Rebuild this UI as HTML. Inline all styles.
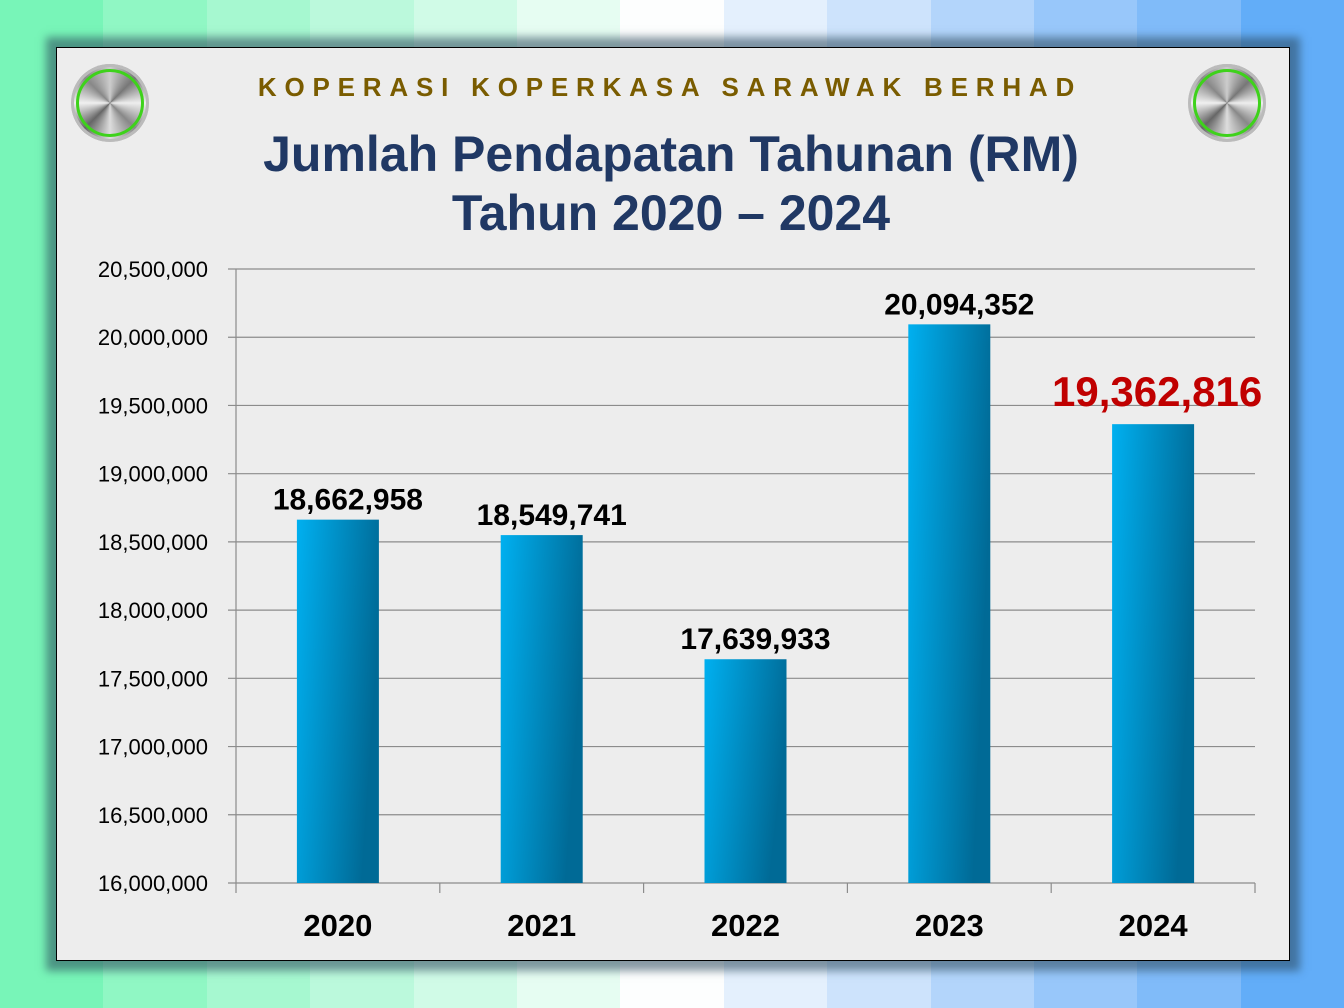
<!DOCTYPE html>
<html><head><meta charset="utf-8"><style>
body{margin:0;width:1344px;height:1008px;overflow:hidden;font-family:"Liberation Sans",sans-serif;position:relative}
.stripes{position:absolute;inset:0;display:flex}
.stripes div{flex:1}
#panel{position:absolute;left:56px;top:47px;width:1232px;height:912px;background:#ededed;border:1.5px solid #000;box-shadow:0 0 8px 10px rgba(40,70,90,0.55)}
.knob{position:absolute;width:78px;height:78px;border-radius:50%;background:conic-gradient(#ccc,#777,#eee,#888,#ddd,#666,#f0f0f0,#888,#ccc);box-shadow:0 0 0 3px #bbb inset}
.knob::after{content:"";position:absolute;left:5px;top:5px;width:62px;height:62px;border-radius:50%;border:3px solid #3ed21b}
</style></head><body>
<div class="stripes">
<div style="background:#78f5b8"></div><div style="background:#90f7c4"></div><div style="background:#a6f8d0"></div><div style="background:#bbf9dc"></div><div style="background:#d0fbe7"></div><div style="background:#e6fdf2"></div><div style="background:#fdfefe"></div><div style="background:#e4f0fd"></div><div style="background:#cde3fc"></div><div style="background:#b3d5fb"></div><div style="background:#98c7fa"></div><div style="background:#80bbf9"></div><div style="background:#62adf8"></div>
</div>
<div id="panel"></div>
<div class="knob" style="left:71px;top:64px"></div>
<div class="knob" style="left:1188px;top:64px"></div>
<svg width="1344" height="1008" style="position:absolute;left:0;top:0" id="chart">
<text x="670" y="96" text-anchor="middle" font-size="26" font-weight="bold" fill="#7a5c00" letter-spacing="7.8">KOPERASI KOPERKASA SARAWAK BERHAD</text>
<text x="671" y="171" text-anchor="middle" font-size="50" font-weight="bold" fill="#203864">Jumlah Pendapatan Tahunan (RM)</text>
<text x="671" y="230" text-anchor="middle" font-size="50" font-weight="bold" fill="#203864">Tahun 2020 – 2024</text>
<defs><linearGradient id="bg" x1="0" y1="0" x2="1" y2="0.3"><stop offset="0" stop-color="#00b0f0"/><stop offset="1" stop-color="#006a96"/></linearGradient></defs>
<g id="g"></g>
</svg>
<script>
const categories=["2020","2021","2022","2023","2024"];
const values=[18662958,18549741,17639933,20094352,19362816];
const valueLabels=["18,662,958","18,549,741","17,639,933","20,094,352","19,362,816"];
const yTicks=[16000000,16500000,17000000,17500000,18000000,18500000,19000000,19500000,20000000,20500000];
const yMin=16000000,yMax=20500000,x0=236,x1=1255,yb=883,yt=269;
const y=v=>yb-(v-yMin)/(yMax-yMin)*(yb-yt);
const bw=(x1-x0)/categories.length;
const xc=i=>x0+bw*(i+0.5);
const g=document.getElementById('g');const NS="http://www.w3.org/2000/svg";
function mk(t,a,txt){const e=document.createElementNS(NS,t);for(const k in a)e.setAttribute(k,a[k]);if(txt!=null)e.textContent=txt;g.appendChild(e);return e;}
yTicks.forEach(v=>{
const l=mk('line',{x1:x0-8,x2:x1,y1:y(v),y2:y(v),stroke:'#8c8c8c','stroke-width':1.2});


const t=mk('text',{x:208,y:y(v)+8,'text-anchor':'end','font-size':22,fill:'#000'},v.toLocaleString('en-US'));


});
const ax=mk('line',{x1:x0,x2:x0,y1:yt,y2:yb,stroke:'#8c8c8c','stroke-width':1.2});


for(let i=0;i<=categories.length;i++){
const tk=mk('line',{x1:x0+bw*i,x2:x0+bw*i,y1:yb,y2:yb+10,stroke:'#8c8c8c','stroke-width':1.2});


}
categories.forEach((c,i)=>{
const b=mk('rect',{x:xc(i)-41,y:y(values[i]),width:82,height:yb-y(values[i]),fill:'url(#bg)'});


const last=i===categories.length-1;
const vl=mk('text',{x:last?xc(i)+4:xc(i)+10,y:y(values[i])-(last?18:10),'text-anchor':'middle','font-size':last?42:30,'font-weight':'bold',fill:last?'#c00000':'#000'},valueLabels[i]);


const xl=mk('text',{x:xc(i),y:936,'text-anchor':'middle','font-size':31,'font-weight':'bold',fill:'#000'},c);


});
</script>
</body></html>
